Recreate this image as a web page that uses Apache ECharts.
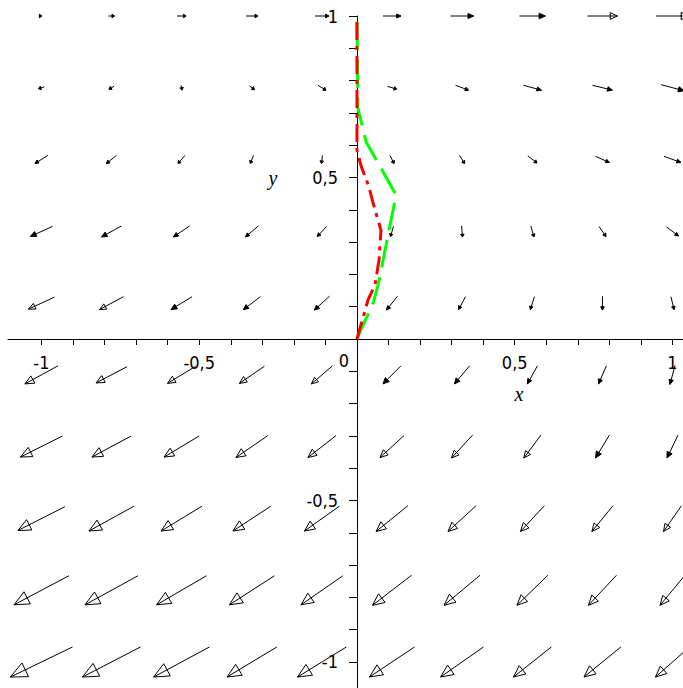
<!DOCTYPE html>
<html>
<head>
<meta charset="utf-8">
<title>Direction field</title>
<script src="https://cdn.jsdelivr.net/npm/echarts@6/dist/echarts.min.js"></script>
<style>
html, body { margin: 0; padding: 0; background: #fff; }
#chart { width: 683px; height: 688px; }
</style>
</head>
<body>
<div id="chart"></div>
<script>
// arrow centres
var xGrid = [-1, -0.778, -0.556, -0.333, -0.111, 0.111, 0.333, 0.556, 0.778, 1];
var yGrid = [1, 0.778, 0.556, 0.333, 0.111, -0.111, -0.333, -0.556, -0.778, -1];

// arrow components (data units), one row per yGrid value
var uRows = [
    [0.003, 0.019, 0.029, 0.038, 0.044, 0.057, 0.073, 0.082, 0.095, 0.105],
    [-0.019, -0.016, 0.003, 0.016, 0.025, 0.029, 0.041, 0.057, 0.063, 0.073],
    [-0.041, -0.032, -0.022, -0.010, -0.003, 0.013, 0.016, 0.029, 0.044, 0.054],
    [-0.070, -0.063, -0.051, -0.041, -0.029, -0.010, 0.003, 0.010, 0.022, 0.038],
    [-0.082, -0.076, -0.067, -0.054, -0.048, -0.035, -0.022, -0.013, 0, 0.010],
    [-0.105, -0.098, -0.089, -0.079, -0.067, -0.057, -0.048, -0.032, -0.025, -0.016],
    [-0.133, -0.124, -0.111, -0.101, -0.089, -0.076, -0.067, -0.054, -0.044, -0.035],
    [-0.149, -0.143, -0.130, -0.120, -0.111, -0.101, -0.089, -0.076, -0.067, -0.057],
    [-0.174, -0.168, -0.158, -0.143, -0.133, -0.124, -0.114, -0.098, -0.089, -0.079],
    [-0.197, -0.184, -0.177, -0.158, -0.155, -0.143, -0.136, -0.120, -0.117, -0.108]
];
var vRows = [
    [0, 0, 0, 0, 0, 0, 0, 0, 0, 0],
    [-0.006, -0.009, -0.015, -0.012, -0.015, -0.009, -0.015, -0.015, -0.015, -0.019],
    [-0.025, -0.025, -0.025, -0.025, -0.025, -0.025, -0.025, -0.022, -0.019, -0.019],
    [-0.031, -0.034, -0.034, -0.034, -0.031, -0.031, -0.034, -0.034, -0.031, -0.028],
    [-0.037, -0.040, -0.040, -0.040, -0.043, -0.043, -0.040, -0.040, -0.043, -0.040],
    [-0.056, -0.050, -0.053, -0.053, -0.056, -0.056, -0.056, -0.056, -0.056, -0.059],
    [-0.065, -0.065, -0.065, -0.068, -0.068, -0.068, -0.071, -0.071, -0.071, -0.071],
    [-0.074, -0.077, -0.077, -0.077, -0.077, -0.080, -0.080, -0.080, -0.080, -0.080],
    [-0.090, -0.090, -0.090, -0.090, -0.090, -0.093, -0.093, -0.093, -0.093, -0.093],
    [-0.093, -0.093, -0.093, -0.093, -0.093, -0.093, -0.093, -0.093, -0.093, -0.093]
];

// solution curves
var greenX = [0, 0.051, 0.067, 0.124, 0.029, 0.003, 0];
var greenY = [0, 0.111, 0.167, 0.446, 0.610, 0.715, 1];
var redX = [0, 0.035, 0.057, 0.070, 0.076, 0.051, 0.038, 0.013, 0, 0];
var redY = [0, 0.121, 0.167, 0.245, 0.337, 0.421, 0.471, 0.536, 0.585, 1];

// ticks and labels
var axisTicks = [-1, -0.9, -0.8, -0.7, -0.6, -0.5, -0.4, -0.3, -0.2, -0.1, 0,
    0.1, 0.2, 0.3, 0.4, 0.5, 0.6, 0.7, 0.8, 0.9, 1];
var xLabels = [-1, -0.5, 0.5, 1];
var yLabels = [1, 0.5, -0.5, -1];

var labelFont = "'DejaVu Sans Condensed', 'DejaVu Sans', sans-serif";

function fmt(v) {
    return String(v).replace('.', ',');
}

var arrowData = [];
for (var i = 0; i < yGrid.length; i++) {
    for (var j = 0; j < xGrid.length; j++) {
        arrowData.push([xGrid[j], yGrid[i], uRows[i][j], vRows[i][j]]);
    }
}

function renderArrow(params, api) {
    var x = api.value(0), y = api.value(1), u = api.value(2), v = api.value(3);
    var a = api.coord([x - u / 2, y - v / 2]);
    var b = api.coord([x + u / 2, y + v / 2]);
    var dx = b[0] - a[0], dy = b[1] - a[1];
    var len = Math.sqrt(dx * dx + dy * dy) || 1;
    var ux = dx / len, uy = dy / len;
    var hl = Math.max(2.5, len * 0.24), hw = Math.max(1.8, len * 0.11);
    var bx = b[0] - ux * hl, by = b[1] - uy * hl;
    var head = [[b[0], b[1]], [bx - uy * hw, by + ux * hw], [bx + uy * hw, by - ux * hw]];
    return {
        type: 'group',
        children: [
            {type: 'polygon', shape: {points: head},
                style: {fill: len > 27 ? '#fff' : '#000', stroke: '#000', lineWidth: 1}},
            {type: 'line', shape: {x1: a[0], y1: a[1], x2: b[0], y2: b[1]},
                style: {stroke: '#000', lineWidth: 1}}
        ]
    };
}

function toPairs(xs, ys) {
    return xs.map(function (x, k) { return [x, ys[k]]; });
}

var chart = echarts.init(document.getElementById('chart'), null, {renderer: 'svg'});
var option = {
    animation: false,
    backgroundColor: '#fff',
    grid: {left: 8, right: 0, top: 16, bottom: 0, outerBoundsMode: 'none', containLabel: false},
    xAxis: {
        type: 'value',
        position: 'bottom',
        offset: -349,
        min: -1.106,
        max: 1.0333,
        axisLine: {onZero: false, lineStyle: {color: '#000', width: 1}},
        axisTick: {show: true, customValues: axisTicks, length: 6, lineStyle: {color: '#000'}},
        axisLabel: {
            customValues: xLabels, formatter: fmt, margin: 14,
            color: '#000', fontSize: 18, fontFamily: labelFont
        },
        splitLine: {show: false}
    },
    yAxis: {
        type: 'value',
        position: 'left',
        offset: -349,
        min: -1.0805,
        max: 1,
        axisLine: {onZero: false, lineStyle: {color: '#000', width: 1}},
        axisTick: {show: true, customValues: axisTicks, length: 8, lineStyle: {color: '#000'}},
        axisLabel: {
            customValues: yLabels, formatter: fmt, margin: 19,
            color: '#000', fontSize: 18, fontFamily: labelFont
        },
        splitLine: {show: false}
    },
    series: [
        {
            type: 'custom',
            renderItem: renderArrow,
            data: arrowData,
            encode: {x: 0, y: 1},
            clip: false,
            silent: true,
            z: 2
        },
        {
            type: 'line',
            data: toPairs(greenX, greenY),
            symbol: 'none',
            lineStyle: {color: '#00ff00', width: 3, type: [28, 10], cap: 'butt'},
            silent: true,
            z: 3
        },
        {
            type: 'line',
            data: toPairs(redX, redY),
            symbol: 'none',
            lineStyle: {color: '#ff0000', width: 3, type: [18, 6, 4, 6], cap: 'butt'},
            silent: true,
            z: 4
        }
    ]
};
chart.setOption(option);

// origin label and axis names
var o = chart.convertToPixel({gridIndex: 0}, [0, 0]);
var xName = chart.convertToPixel({gridIndex: 0}, [0.513, -0.17]);
var yName = chart.convertToPixel({gridIndex: 0}, [-0.266, 0.498]);
chart.setOption({
    graphic: [
        {type: 'text', x: o[0] - 8, y: o[1] + 13, z: 10,
            style: {text: '0', fill: '#000', font: '18px ' + labelFont, textAlign: 'right', textVerticalAlign: 'top'}},
        {type: 'text', x: xName[0], y: xName[1], z: 10,
            style: {text: 'x', fill: '#000', font: 'italic 20px "Liberation Serif", serif', textAlign: 'center', textVerticalAlign: 'middle'}},
        {type: 'text', x: yName[0], y: yName[1], z: 10,
            style: {text: 'y', fill: '#000', font: 'italic 20px "Liberation Serif", serif', textAlign: 'center', textVerticalAlign: 'middle'}}
    ]
});
</script>
</body>
</html>
